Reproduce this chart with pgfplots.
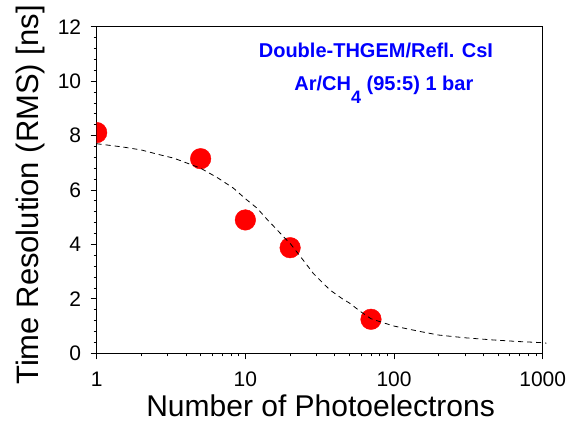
\documentclass[border=0pt]{standalone}
\usepackage{pgfplots}
\pgfplotsset{compat=1.18}
\usepackage{fontspec}
\setmainfont{Liberation Sans}
\begin{document}
\begin{tikzpicture}[x=1pt,y=1pt]
\useasboundingbox (0,0) rectangle (581,426);
\begin{axis}[
  at={(96.7pt,72.7pt)}, anchor=south west,
  scale only axis, width=446pt, height=326.6pt,
  xmode=log, xmin=1, xmax=1000, ymin=0, ymax=12,
  xtick={1,10,100,1000}, xticklabels={1,10,100,1000},
  ytick={0,2,4,6,8,10,12},
  minor y tick num=4,
  tick align=outside, xtick pos=bottom, ytick pos=left,
  major tick length=6pt, minor tick length=3pt,
  axis line style={line width=1pt},
  every tick/.style={black, line width=0.8pt},
  /pgf/number format/assume math mode=true,
  ticklabel style={font=\fontsize{21}{25}\selectfont},
  xticklabel style={inner sep=0pt},
  yticklabel style={inner sep=0pt},
  xticklabel shift=12.7pt,
  yticklabel shift=9.4pt,
  xlabel={Number of Photoelectrons},
  ylabel={Time Resolution (RMS) [ns]},
  xlabel style={at={(axis description cs:0.502,-0.1268)}, anchor=north, inner sep=0pt, font=\fontsize{30}{36}\selectfont},
  ylabel style={at={(axis description cs:-0.1166,0.485)}, anchor=south, inner sep=0pt, font=\fontsize{31}{36}\selectfont},
  clip marker paths=true,
]
\addplot[only marks, mark=*, mark size=10.3pt, red, mark options={fill=red, draw=red}] coordinates {
  (1,8.11) (5,7.15) (10,4.90) (20,3.88) (70,1.25)
};
\node[anchor=base, text=blue, font=\fontsize{20}{24}\selectfont\bfseries] at (rel axis cs:0.626,0.906) {Double-THGEM/Refl. CsI};
\node[anchor=base, text=blue, font=\fontsize{20}{24}\selectfont\bfseries] at (rel axis cs:0.644,0.806) {Ar/CH\raisebox{-13pt}{\fontsize{18}{18}\selectfont 4} (95:5) 1 bar};
\end{axis}
\begin{axis}[
  at={(96.7pt,72.7pt)}, anchor=south west,
  scale only axis, width=446pt, height=326.6pt,
  xmode=log, xmin=1, xmax=1000, ymin=0, ymax=12,
  hide axis, clip=false,
]
\addplot[black, line width=0.8pt, dash pattern=on 5pt off 4pt] coordinates {
  (1,7.70) (1.5,7.58) (2,7.47) (2.5,7.33) (3.3,7.17) (4,7.0) (5,6.80) (6.5,6.45)
  (8.3,6.07) (10,5.68) (12,5.33) (14,4.92) (16,4.59) (18,4.29) (20,4.04) (25,3.36)
  (28.6,2.94) (33,2.6) (37,2.33) (45,2.0) (50,1.85) (60,1.52) (70,1.27) (85,1.12)
  (100,1.0) (150,0.80) (200,0.67) (300,0.57) (465,0.49) (700,0.43) (1000,0.39) (1060,0.37)
};
\end{axis}
\end{tikzpicture}
\end{document}
